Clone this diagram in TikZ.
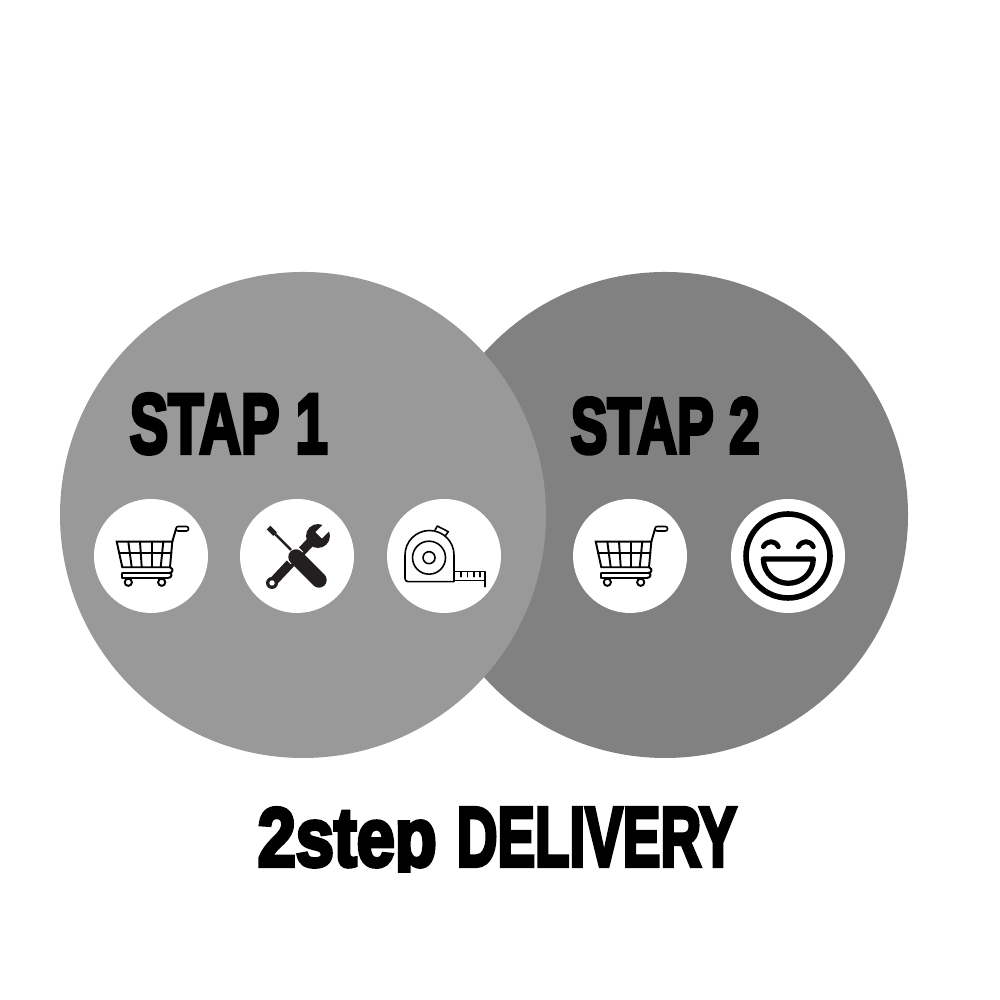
\documentclass[tikz,border=0pt]{standalone}
\usepackage{graphicx}
\usepackage{fontspec}
\newfontfamily\impactfont[UprightFont=* Bold,FakeBold=5]{Liberation Sans}
\newcommand{\schrift}[3]{\resizebox{#1}{#2}{\impactfont #3}}
\definecolor{hellgrau}{HTML}{999999}
\definecolor{dunkelgrau}{HTML}{828181}
\definecolor{werkzeug}{HTML}{231F20}
\tikzset{
  scheibe/.style={circle,inner sep=0pt,minimum size=4.86cm},
  punkt/.style={circle,fill=white,inner sep=0pt,minimum size=1.14cm},
  beschriftung/.style={inner sep=0pt,anchor=base west},
  icon/.style={scale=0.01,yscale=-1,line cap=round,line join=round},
  cart/.pic={
    \draw[line width=0.55pt,line join=miter] (-34.3,-14.3) -- (21.3,-14.3) -- (19,11.3) -- (-28.7,11.3) -- cycle;
    \draw[line width=0.55pt] (-32,-2.7) -- (20.3,-2.7);
    \foreach \a/\b in {-22.7/-19.3,-11/-9.3,0.7/0.7,12.3/9.7}
      \draw[line width=0.55pt] (\a,-14.3) -- (\b,11.3);
    \draw[line width=0.55pt] (21.3,-14.3) -- (25,-27);
    \draw[line width=0.45pt,rounded corners=0.6pt] (25,-29.5) rectangle (37.5,-25);
    \draw[line width=0.55pt,fill=white] (19,11.3) .. controls (23,13) and (22,17) .. (18,17) -- (-29,17) -- (-29,22) -- (17,22) .. controls (21,22) and (22,17) .. (18,17);
    \fill[white] (-27.5,18) rectangle (16,20);
    \draw[line width=0.55pt,fill=white] (-22.7,26.3) circle (3.6);
    \draw[line width=0.55pt,fill=white] (10.7,26.3) circle (3.6);
  },
  werkzeuge/.pic={
    % Schluessel
    \draw[werkzeug,line width=2.6pt,line cap=butt] (-25,27) -- (20,-21);
    \fill[werkzeug] (21,-20) circle (12);
    \fill[white,rotate around={-45:(21,-20)}] (22,-24.5) rectangle (37,-15.5);
    \fill[werkzeug] (-25,27) circle (6);
    \fill[white] (-25,27) circle (2.7);
    % Schraubendreher
    \draw[werkzeug,line width=0.7pt] (-26,-26) -- (-3,-3);
    \draw[werkzeug,line width=1.5pt,line cap=butt] (-28.5,-28.5) -- (-22,-22);
    \draw[white,line width=5pt,line cap=butt] (-7,-5) -- (0,2);
    \draw[werkzeug,line width=4.4pt] (-1,1) -- (22,24);
  },
  massband/.pic={
    \draw[line width=0.45pt] (10,25.7) -- (-36,25.7) arc (90:180:3) -- (-39,-1) arc (180:360:24.5) -- cycle;
    \draw[line width=0.45pt] (-15,1.7) circle (16.5) (-15,1.7) circle (6);
    \draw[line width=0.45pt] (-9,-26) -- (-6.7,-30) -- (4.3,-24.3) -- (1.5,-20.5);
    \draw[line width=0.45pt] (10,15.7) -- (41,15.7) -- (41,30.7) (10,24.7) -- (41,24.7);
    \foreach \x in {17,23.3,30,36}
      \draw[line width=0.45pt] (\x,15.7) -- (\x,20.7);
  },
  smiley/.pic={
    \draw[line width=1.6pt] (0,0) circle (42);
    \draw[line width=1.4pt] (-24.7,-9.3) .. controls (-21,-16) and (-13,-16) .. (-9.7,-9.3);
    \draw[line width=1.4pt] (10.3,-9.3) .. controls (14,-16) and (22,-16) .. (25.3,-9.3);
    \draw[line width=1.5pt] (-24.7,3) -- (25.3,3) .. controls (25,18) and (13,27.3) .. (0.3,27.3) .. controls (-12,27.3) and (-24.4,18) .. (-24.7,3) -- cycle;
  }
}
\begin{document}
\begin{tikzpicture}
  \useasboundingbox (0,0) rectangle (10,10);
  % Kreise
  \node[scheibe,fill=dunkelgrau] (kreisB) at (6.65,4.85) {};
  \node[scheibe,fill=hellgrau] (kreisA) at (3.03,4.85) {};
  % Punkte
  \node[punkt] (korbA) at (1.51,4.44) {};
  \node[punkt] (tools) at (2.97,4.44) {};
  \node[punkt] (mass) at (4.44,4.44) {};
  \node[punkt] (korbB) at (6.30,4.44) {};
  \node[punkt] (laecheln) at (7.88,4.44) {};
  % Symbole
  \pic[icon] at (korbA) {cart};
  \pic[icon] at (tools) {werkzeuge};
  \pic[icon] at (mass) {massband};
  \pic[icon] at (korbB) {cart};
  \pic[icon] at (laecheln) {smiley};
  % Texte
  \node[beschriftung] (stapA) at (1.29,5.47) {\schrift{1.98cm}{0.59cm}{STAP 1}};
  \node[beschriftung] (stapB) at (5.70,5.47) {\schrift{1.89cm}{0.55cm}{STAP 2}};
  \begin{scope}
    \clip (2,1.27) rectangle (8,2.2);
    \node[beschriftung] (titel) at (2.57,1.34) {\schrift{1.79cm}{0.58cm}{2step}\hspace{0.2cm}\schrift{2.80cm}{0.58cm}{DELIVERY}};
  \end{scope}
\end{tikzpicture}
\end{document}
